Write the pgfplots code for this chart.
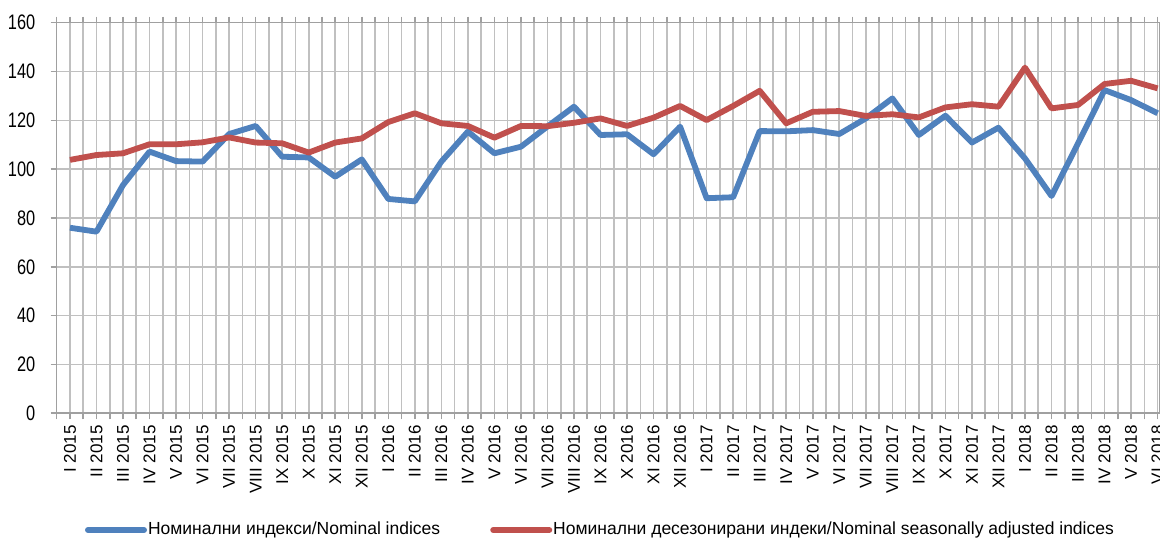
\documentclass[border=0pt]{standalone}
\usepackage{fontspec}
\setmainfont{Liberation Sans}
\newfontfamily\narrowfont{Liberation Sans}[FakeStretch=0.78]
\usepackage{pgfplots}
\pgfplotsset{compat=1.18}
\usepackage{pgfplotstable}
\definecolor{bluel}{HTML}{4F81BD}
\definecolor{redl}{HTML}{C0504D}
\definecolor{gridc}{HTML}{C0C0C0}
\definecolor{axc}{HTML}{A0A0A0}
\pgfplotstableread{
x nom sa
0 76.0 103.8
1 74.4 105.8
2 93.5 106.5
3 107.2 110.2
4 103.3 110.2
5 103.1 111.0
6 114.4 113.0
7 117.7 110.9
8 105.1 110.6
9 104.8 106.8
10 96.9 110.9
11 104.0 112.6
12 87.8 119.3
13 86.8 122.9
14 103.1 118.8
15 115.4 117.7
16 106.5 112.9
17 109.2 117.7
18 117.5 117.6
19 125.6 119.0
20 114.0 120.8
21 114.3 117.7
22 106.1 121.1
23 117.4 125.9
24 88.1 120.1
25 88.5 125.9
26 115.6 132.1
27 115.5 118.8
28 116.0 123.5
29 114.4 123.8
30 120.8 121.8
31 129.0 122.5
32 114.0 121.2
33 121.9 125.3
34 110.9 126.6
35 117.0 125.6
36 104.4 141.6
37 89.0 124.9
38 110.6 126.3
39 132.4 134.9
40 128.3 136.2
41 122.9 133.1
}\datatable
\begin{document}
\begin{tikzpicture}[trim axis right]
\path (-28.35pt,-65.35pt) rectangle (551.65pt,206.65pt);
\begin{axis}[
  at={(0,0)}, anchor=south west,
  scale only axis, width=551.65pt, height=195.3pt,
  xmin=-0.5, xmax=41.09, ymin=0, ymax=160,
  xtick={0,...,41},
  xticklabels={I 2015,II 2015,III 2015,IV 2015,V 2015,VI 2015,VII 2015,VIII 2015,IX 2015,X 2015,XI 2015,XII 2015,
    I 2016,II 2016,III 2016,IV 2016,V 2016,VI 2016,VII 2016\hspace{3pt},VIII 2016,IX 2016,X 2016,XI 2016,XII 2016,
    I 2017,II 2017,III 2017,IV 2017,V 2017,VI 2017,VII 2017,VIII 2017,IX 2017,X 2017,XI 2017,XII 2017,
    I 2018,II 2018,III 2018,IV 2018,V 2018,VI 2018},
  minor xtick={-0.5,0.5,...,40.5},
  ytick={0,20,...,160},
  xmajorgrids, xminorgrids, ymajorgrids,
  major grid style={gridc, line width=0.8pt},
  minor grid style={gridc, line width=0.8pt},
  axis line style={axc, line width=0.8pt},
  tick style={axc, line width=0.8pt},
  tick align=outside,
  major tick length=3pt, minor tick length=3pt,
  xticklabel style={rotate=90, anchor=east, inner sep=0pt, font=\fontsize{8.5}{10}\selectfont},
  xticklabel shift=2.9pt,
  yticklabel style={anchor=east, inner sep=0pt, font=\narrowfont\fontsize{10.5}{12}\selectfont},
  yticklabel shift=7.5pt,
  /pgf/number format/assume math mode=true,
  legend style={at={(0.4924,-0.2988)}, anchor=center, draw=none, fill=none,
    legend columns=2, font=\fontsize{8.75}{10.5}\selectfont,
    /tikz/every even column/.append style={column sep=24.5pt},
    nodes={inner sep=0.5pt}},
  legend image code/.code={\draw[#1, line width=3pt, line cap=round] (0pt,0pt) -- (28pt,0pt);},
]
\addplot[bluel, line width=2.9pt, line join=round] table[x=x, y=nom] {\datatable};
\addlegendentry{Номинални индекси/Nominal indices}
\addplot[redl, line width=2.9pt, line join=round] table[x=x, y=sa] {\datatable};
\addlegendentry{Номинални десезонирани индеки/Nominal seasonally adjusted indices}
\end{axis}
\end{tikzpicture}
\end{document}
